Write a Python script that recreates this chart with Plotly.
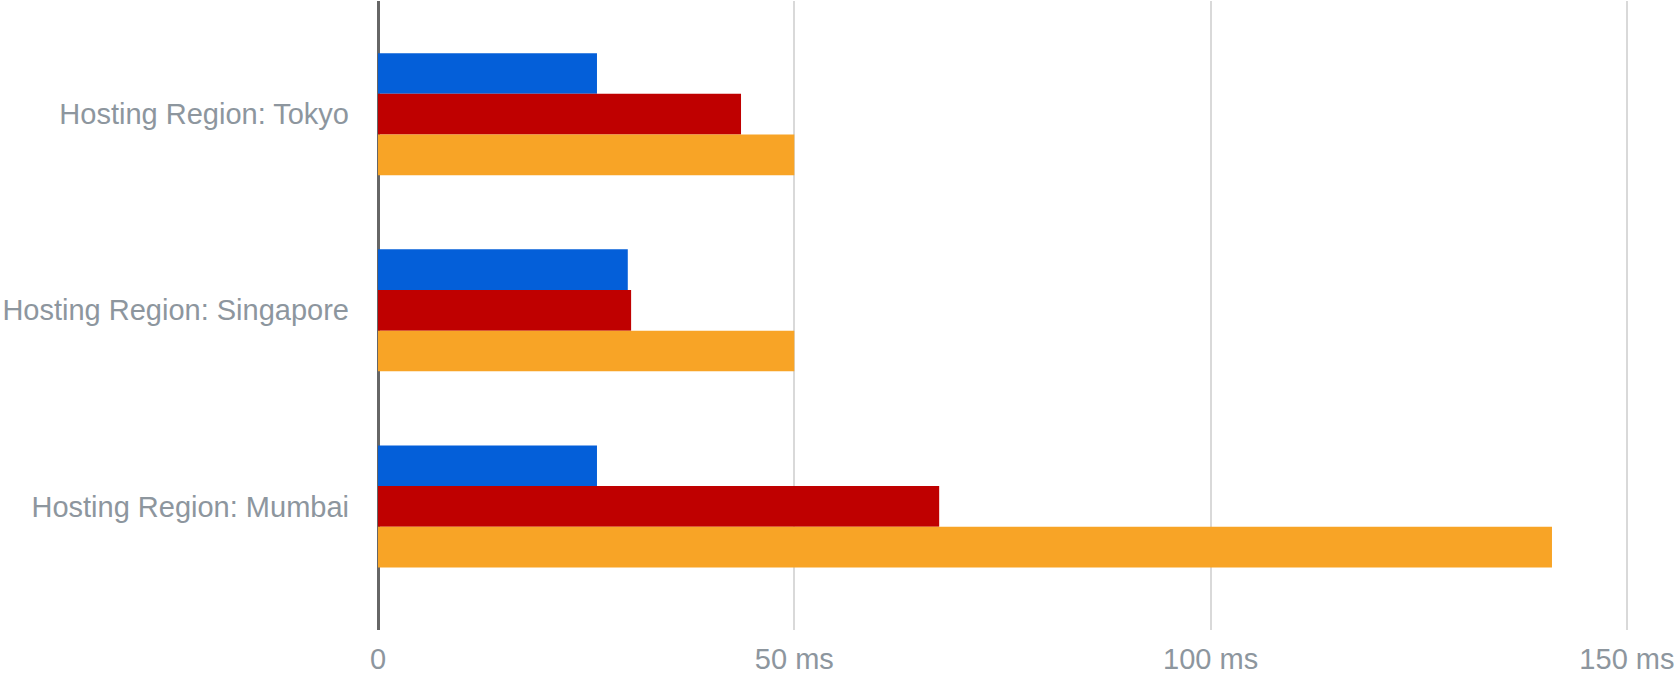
import plotly.graph_objects as go

categories = ["Hosting Region: Tokyo", "Hosting Region: Singapore", "Hosting Region: Mumbai"]
series_names = ["Series 1", "Series 2", "Series 3"]
series_1 = [26.3, 30.0, 26.3]
series_2 = [43.6, 30.4, 67.4]
series_3 = [50.0, 50.0, 141.0]
series_colors = ["#045fd9", "#bf0000", "#f8a426"]
x_tick_values = [0, 50, 100, 150]
x_tick_labels = ["0", "50 ms", "100 ms", "150 ms"]

fig = go.Figure()
for name, vals, col in zip(series_names, [series_1, series_2, series_3], series_colors):
    fig.add_trace(go.Bar(
        y=categories, x=vals, name=name, orientation="h",
        marker=dict(color=col, line=dict(width=0)),
    ))

label_font = dict(family="Liberation Sans, Arial, Helvetica, sans-serif", size=29, color="#8d969e")

fig.update_layout(
    width=1676, height=676,
    margin=dict(l=378, r=47, t=1, b=44),
    paper_bgcolor="white", plot_bgcolor="white",
    barmode="group", bargap=0.378, bargroupgap=0,
    showlegend=False,
    xaxis=dict(
        range=[0, 150.25], tickvals=x_tick_values, ticktext=x_tick_labels,
        showgrid=True, gridcolor="#d9d9d9", gridwidth=1.5,
        zeroline=True, zerolinecolor="#666666", zerolinewidth=2.5,
        showline=False, ticks="", tickfont=label_font, ticklabelstandoff=9,
    ),
    yaxis=dict(
        type="category", categoryorder="array", categoryarray=categories,
        range=[2.63, -0.577], showgrid=False, zeroline=False, showline=False,
        ticks="", tickfont=label_font, ticklabelstandoff=28,
    ),
)

fig.write_html("out.html")
